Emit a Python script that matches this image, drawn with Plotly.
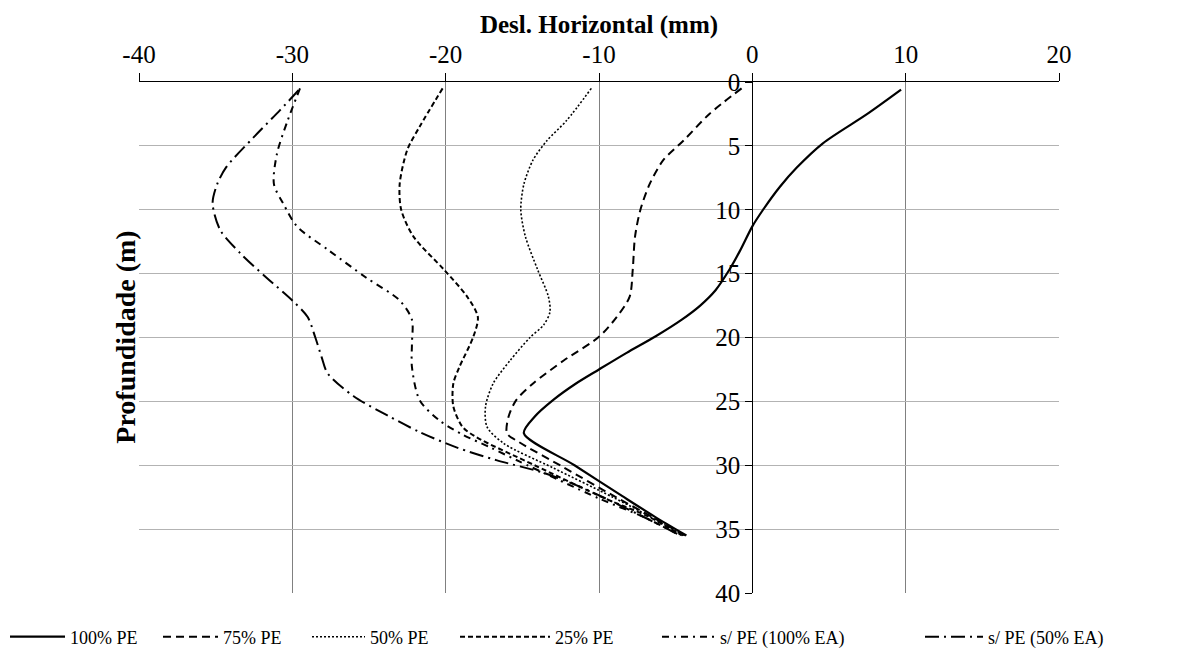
import plotly.graph_objects as go

# ---- data ----
pe100_x = [9.7, 7.5, 4.6, 2.9, 1.8, 0.7, 0.0, -0.8, -1.5, -2.4, -3.4, -4.6, -6.3, -8.2, -10.0, -11.5, -13.0, -14.2, -14.9, -11.6, -8.5, -6.4, -4.3]
pe100_y = [0.6, 2.5, 4.8, 6.7, 8.2, 10.0, 11.3, 13.2, 14.7, 16.3, 17.5, 18.6, 19.9, 21.2, 22.5, 23.6, 24.9, 26.2, 27.5, 30.0, 32.4, 34.0, 35.5]

pe75_x = [-0.7, -2.8, -4.5, -5.8, -6.7, -7.3, -7.65, -7.8, -8.0, -8.85, -10.0, -12.3, -14.3, -15.4, -15.9, -16.0, -15.2, -12.4, -8.9, -6.6, -4.4]
pe75_y = [0.5, 2.5, 4.6, 6.1, 8.0, 10.0, 12.1, 14.7, 16.8, 18.4, 19.95, 21.8, 23.6, 24.9, 26.2, 27.5, 28.2, 30.1, 32.5, 34.0, 35.5]

pe50_x = [-10.5, -12.1, -13.4, -14.3, -14.9, -15.1, -14.8, -14.0, -13.3, -13.2, -13.6, -14.5, -15.8, -16.9, -17.4, -17.3, -16.2, -13.0, -9.1, -6.7, -4.5]
pe50_y = [0.5, 3.0, 4.6, 6.1, 8.0, 10.0, 12.1, 14.7, 16.8, 18.0, 19.0, 20.0, 21.8, 23.6, 25.4, 27.0, 28.3, 30.2, 32.5, 34.0, 35.5]

pe25_x = [-20.2, -21.7, -22.5, -23.0, -22.9, -22.1, -20.1, -18.6, -17.9, -18.2, -19.1, -19.5, -19.5, -18.9, -18.0, -14.2, -9.6, -6.8, -4.6]
pe25_y = [0.5, 3.5, 5.3, 8.0, 10.0, 12.1, 14.7, 16.8, 18.4, 19.95, 22.3, 23.6, 25.4, 27.0, 27.8, 30.0, 32.6, 34.0, 35.5]

ea100_x = [-29.5, -30.3, -31.0, -31.2, -30.6, -29.7, -27.6, -25.2, -23.0, -22.2, -22.2, -22.2, -21.7, -20.4, -18.9, -17.1, -15.2, -10.0, -7.0, -4.7]
ea100_y = [0.5, 3.0, 5.6, 8.0, 9.5, 11.3, 13.2, 15.3, 17.1, 18.6, 20.5, 22.3, 24.9, 26.5, 27.6, 28.6, 29.7, 32.6, 34.1, 35.5]

ea50_x = [-29.6, -30.8, -32.5, -34.3, -34.9, -35.2, -34.7, -33.4, -31.7, -30.0, -29.0, -28.5, -28.1, -27.7, -26.0, -23.8, -21.7, -19.3, -16.7, -13.6, -11.2, -7.5, -4.7]
ea50_y = [0.65, 2.2, 4.3, 6.65, 8.0, 9.5, 11.6, 13.4, 15.3, 17.1, 18.4, 20.0, 21.5, 22.8, 24.6, 26.1, 27.4, 28.6, 29.6, 30.6, 31.7, 33.8, 35.5]

series = [
    ("100% PE", pe100_x, pe100_y, "solid", 2.2),
    ("75% PE", pe75_x, pe75_y, "8px,5px", 2.0),
    ("50% PE", pe50_x, pe50_y, "2px,2px", 1.6),
    ("25% PE", pe25_x, pe25_y, "5px,3px", 2.0),
    ("s/ PE (100% EA)", ea100_x, ea100_y, "7px,5px,2px,5px", 2.0),
    ("s/ PE (50% EA)", ea50_x, ea50_y, "14px,5px,2px,5px", 2.0),
]

x_ticks = [-40, -30, -20, -10, 0, 10, 20]
x_ticktext = ["-40", "-30", "-20", "-10", "0", "10", "20"]
y_ticks = [0, 5, 10, 15, 20, 25, 30, 35, 40]

FONT = "Liberation Serif"
W, H = 1187, 651

# legend entry placement (pixels): line start and sample length
leg_pos = [(10, 55), (163, 55), (312, 53), (460, 90), (662, 53), (925, 58)]
leg_names = ["legend", "legend2", "legend3", "legend4", "legend5", "legend6"]

fig = go.Figure()
for (name, xs, ys, dash, w), lg in zip(series, leg_names):
    fig.add_trace(go.Scatter(
        x=xs, y=ys, name=name, mode="lines", legend=lg,
        line=dict(color="black", width=w, dash=dash, shape="spline", smoothing=0.8),
        xaxis="x", yaxis="y",
    ))

legends = {}
for lg, (px, iw) in zip(leg_names, leg_pos):
    legends[lg] = dict(
        xref="container", yref="container",
        x=(px - 5) / W, xanchor="left", y=1 - 637 / H, yanchor="middle",
        font=dict(size=18, family=FONT, color="black"), itemwidth=iw,
        bgcolor="rgba(0,0,0,0)", borderwidth=0,
    )

fig.update_layout(
    width=W, height=H,
    margin=dict(l=139, r=128, t=82, b=58, autoexpand=False),
    paper_bgcolor="white", plot_bgcolor="white",
    font=dict(family=FONT, color="black", size=20),
    xaxis=dict(
        side="top", range=[-40, 20], tickvals=x_ticks, ticktext=x_ticktext,
        ticks="outside", ticklen=8, tickcolor="black",
        showline=True, linecolor="black", linewidth=1,
        showgrid=True, gridcolor="#808080", gridwidth=1,
        zeroline=False, tickfont=dict(size=25),
        title=dict(text="<b>Desl. Horizontal (mm)</b>", font=dict(size=25), standoff=0),
        domain=[0, 1], mirror=False,
    ),
    yaxis=dict(
        range=[40, 0], tickvals=y_ticks,
        anchor="free", position=4/6,
        ticks="outside", ticklen=7, tickcolor="black",
        showline=True, linecolor="black", linewidth=1,
        showgrid=True, gridcolor="#b3b3b3", gridwidth=1,
        zeroline=False, tickfont=dict(size=25),
    ),
    showlegend=True,
    annotations=[dict(
        text="<b>Profundidade (m)</b>", xref="paper", yref="paper",
        x=-0.015, y=0.5, xanchor="center", yanchor="middle", textangle=-90,
        showarrow=False, font=dict(size=28, family=FONT),
    )],
    **legends,
)

fig.write_html("out.html")
